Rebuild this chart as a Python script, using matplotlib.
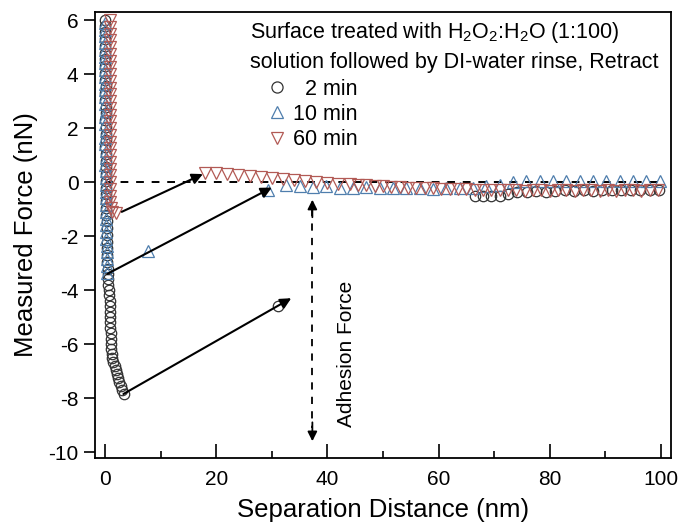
import matplotlib
matplotlib.use('Agg')
import matplotlib.pyplot as plt
from matplotlib.lines import Line2D

plt.rcParams['font.family'] = ['Liberation Sans', 'DejaVu Sans']
plt.rcParams['mathtext.fontset'] = 'custom'
plt.rcParams['mathtext.rm'] = 'Liberation Sans'
plt.rcParams['mathtext.it'] = 'Liberation Sans'
plt.rcParams['axes.unicode_minus'] = False

# 2 min retract (circles)
x_2min = [0.0, 0.0, -0.1, -0.1, 0.0, 0.0, -0.1, 0.0, 0.0, 0.0, 0.1, 0.0, 0.0, 0.1, 0.1,
          0.0, 0.1, 0.1, 0.1, 0.0, 0.1, 0.1, 0.1, 0.1, 0.2, 0.2, 0.2, 0.2, 0.2, 0.2,
          0.3, 0.3, 0.3, 0.3, 0.4, 0.4, 0.4, 0.5, 0.5, 0.6, 0.6, 0.7, 0.7, 0.8, 0.8,
          0.8, 0.9, 0.9, 0.9, 1.0, 1.0, 1.1, 1.1, 1.2, 1.3, 1.5, 1.7, 1.9, 2.1, 2.3,
          2.5, 2.8, 3.1, 3.4, 31.2,
          66.5, 68.0, 69.5, 71.0, 72.5, 74.2, 75.9, 77.6, 79.3, 81.0, 82.7, 84.4, 86.1,
          87.8, 89.5, 91.2, 92.9, 94.6, 96.3, 98.0, 99.6]
y_2min = [6.0, 5.8, 5.55, 5.3, 5.05, 4.8, 4.55, 4.3, 4.05, 3.8, 3.55, 3.3, 3.05, 2.8, 2.55,
          2.3, 2.05, 1.8, 1.55, 1.3, 1.05, 0.8, 0.55, 0.3, 0.05, -0.2, -0.45, -0.7, -0.95, -1.2,
          -1.45, -1.7, -1.95, -2.2, -2.45, -2.7, -2.95, -3.2, -3.4, -3.6, -3.8, -4.0, -4.2, -4.4, -4.6,
          -4.8, -5.0, -5.2, -5.4, -5.6, -5.8, -6.0, -6.2, -6.35, -6.5, -6.65, -6.8, -6.95, -7.1, -7.25,
          -7.4, -7.55, -7.7, -7.85, -4.6,
          -0.5, -0.52, -0.5, -0.5, -0.45, -0.38, -0.35, -0.33, -0.35, -0.32, -0.3, -0.33, -0.3,
          -0.32, -0.3, -0.3, -0.28, -0.3, -0.3, -0.28, -0.3]

# 10 min retract (up triangles)
x_10min = [0.0, -0.1, 0.0, 0.0, -0.1, 0.0, 0.0, 0.0, 0.0, -0.1, 0.0, 0.0, 0.0, 0.1, 0.0,
           0.0, 0.1, 0.0, 0.0, 0.1, 0.1, 0.0, 0.1, 0.1, 0.1, 0.1, 0.1, 0.1, 0.2, 0.2,
           0.2, 0.2, 0.2, 0.3, 0.3, 0.3, 0.3, 0.3,
           7.8, 29.4, 32.6, 35.0, 37.4, 39.8, 42.2, 44.6, 47.0, 49.4, 51.8, 54.2, 56.6,
           59.0, 61.4, 63.8, 66.2, 68.6, 71.0, 73.4, 75.8, 78.2, 80.6, 83.0, 85.4, 87.8,
           90.2, 92.6, 95.0, 97.4, 99.8]
y_10min = [5.9, 5.65, 5.4, 5.15, 4.9, 4.65, 4.4, 4.15, 3.9, 3.65, 3.4, 3.15, 2.9, 2.65, 2.4,
           2.15, 1.9, 1.65, 1.4, 1.15, 0.9, 0.65, 0.4, 0.15, -0.1, -0.35, -0.6, -0.85, -1.1, -1.35,
           -1.6, -1.85, -2.1, -2.35, -2.6, -2.85, -3.1, -3.35,
           -2.55, -0.3, -0.12, -0.15, -0.18, -0.15, -0.2, -0.2, -0.18, -0.22, -0.2, -0.22, -0.2,
           -0.25, -0.2, -0.22, -0.2, -0.15, -0.1, 0.02, 0.05, 0.05, 0.05, 0.05, 0.05, 0.05,
           0.05, 0.05, 0.05, 0.05, 0.05]

# 60 min retract (down triangles)
x_60min = [0.9, 0.9, 0.8, 0.9, 0.9, 0.8, 0.9, 0.9, 0.9, 0.8, 0.9, 0.9, 0.9, 0.8, 0.9,
           0.9, 0.9, 0.9, 0.8, 0.9, 0.9, 0.9, 0.9, 0.9, 0.9, 0.9, 0.9, 0.9, 1.0, 1.3,
           2.0,
           18.0, 20.0, 22.0, 24.0, 26.0, 28.0, 30.0, 32.0, 34.0, 36.0, 38.0, 40.0, 42.0,
           44.0, 45.5, 47.0, 48.5, 50.0, 51.5, 53.0, 54.5, 56.0, 57.5, 59.0, 60.5, 62.0,
           63.5, 65.0, 66.5, 68.0, 69.5, 71.0, 72.5, 74.0, 75.5, 77.0, 78.5, 80.0, 81.5,
           83.0, 84.5, 86.0, 87.5, 89.0, 90.5, 92.0, 93.5, 95.0, 96.5, 98.0, 99.5]
y_60min = [6.0, 5.75, 5.5, 5.25, 5.0, 4.75, 4.5, 4.25, 4.0, 3.75, 3.5, 3.25, 3.0, 2.75, 2.5,
           2.25, 2.0, 1.75, 1.5, 1.25, 1.0, 0.75, 0.5, 0.25, 0.0, -0.25, -0.5, -0.75, -0.95, -1.1,
           -1.15,
           0.35, 0.33, 0.3, 0.25, 0.22, 0.18, 0.14, 0.1, 0.07, 0.03, 0.0, -0.03, -0.06,
           -0.08, -0.1, -0.12, -0.13, -0.15, -0.17, -0.18, -0.2, -0.2, -0.22, -0.22, -0.25, -0.25,
           -0.27, -0.27, -0.28, -0.3, -0.28, -0.3, -0.3, -0.3, -0.32, -0.3, -0.3, -0.32, -0.3,
           -0.3, -0.32, -0.3, -0.3, -0.32, -0.3, -0.32, -0.3, -0.3, -0.32, -0.3, -0.3]

c_2min = '#333333'
c_10min = '#4f7ead'
c_60min = '#b25a55'

fig = plt.figure(figsize=(6.79, 5.27), dpi=100)
ax = fig.add_axes([0.140, 0.131, 0.848, 0.846])

ax.plot([0, 100], [0, 0], color='k', ls=(0, (4, 4)), lw=1.4, zorder=1)

ax.plot(x_2min, y_2min, ls='none', marker='o', ms=7.5, mfc='none', mec=c_2min, mew=0.9, zorder=3)
ax.plot(x_10min, y_10min, ls='none', marker='^', ms=8.5, mfc='none', mec=c_10min, mew=0.9, zorder=3)
ax.plot(x_60min, y_60min, ls='none', marker='v', ms=8.5, mfc='none', mec=c_60min, mew=0.9, zorder=3)

# arrows from minima to the pull-off jump
arrow_kw = dict(arrowstyle='-|>', color='k', lw=1.5, mutation_scale=16, shrinkA=0, shrinkB=0)
ax.annotate('', xy=(17.6, 0.3), xytext=(3.0, -1.1), arrowprops=arrow_kw, zorder=4)
ax.annotate('', xy=(30.0, -0.2), xytext=(0.4, -3.4), arrowprops=arrow_kw, zorder=4)
ax.annotate('', xy=(33.5, -4.3), xytext=(3.3, -7.85), arrowprops=arrow_kw, zorder=4)

# adhesion force double arrow
ax.plot([37.3, 37.3], [-1.0, -9.1], color='k', ls=(0, (4, 4)), lw=1.3, zorder=2)
head_kw = dict(arrowstyle='-|>', color='k', lw=1.3, mutation_scale=14, shrinkA=0, shrinkB=0)
ax.annotate('', xy=(37.3, -0.65), xytext=(37.3, -1.3), arrowprops=head_kw)
ax.annotate('', xy=(37.3, -9.6), xytext=(37.3, -8.9), arrowprops=head_kw)
ax.text(43.4, -6.35, 'Adhesion Force', rotation=90, ha='center', va='center', fontsize=15)

ax.set_xlim(-1.8, 101.8)
ax.set_ylim(-10.22, 6.3)
ax.set_xticks([0, 20, 40, 60, 80, 100])
ax.set_xticks([10, 30, 50, 70, 90], minor=True)
ax.set_yticks([-10, -8, -6, -4, -2, 0, 2, 4, 6])
ax.tick_params(axis='x', which='major', direction='in', length=10, width=1.2, labelsize=15, pad=9)
ax.tick_params(axis='x', which='minor', direction='in', length=5, width=1.2)
ax.tick_params(axis='y', direction='out', length=8, width=1.2, labelsize=15, pad=4)
for s in ax.spines.values():
    s.set_linewidth(1.3)

ax.set_xlabel('Separation Distance (nm)', fontsize=18.5, labelpad=6)
ax.set_ylabel('Measured Force (nN)', fontsize=18.5, labelpad=7)

ax.text(0.269, 0.955, r'Surface treated with H$_2$O$_2$:H$_2$O (1:100)',
        transform=ax.transAxes, fontsize=15.5, va='center', ha='left')
ax.text(0.269, 0.886, 'solution followed by DI-water rinse, Retract',
        transform=ax.transAxes, fontsize=15.5, va='center', ha='left')

handles = [Line2D([], [], ls='none', marker='o', ms=8, mfc='none', mec=c_2min, mew=0.9),
           Line2D([], [], ls='none', marker='^', ms=9, mfc='none', mec=c_10min, mew=0.9),
           Line2D([], [], ls='none', marker='v', ms=9, mfc='none', mec=c_60min, mew=0.9)]
labels = ['  2 min', '10 min', '60 min']
ax.legend(handles, labels, loc='upper left', bbox_to_anchor=(0.275, 0.880), frameon=False,
          fontsize=15.5, handlelength=1.0, handletextpad=0.25, labelspacing=0.2, borderpad=0.1)

fig.savefig('out.png', dpi=100)
